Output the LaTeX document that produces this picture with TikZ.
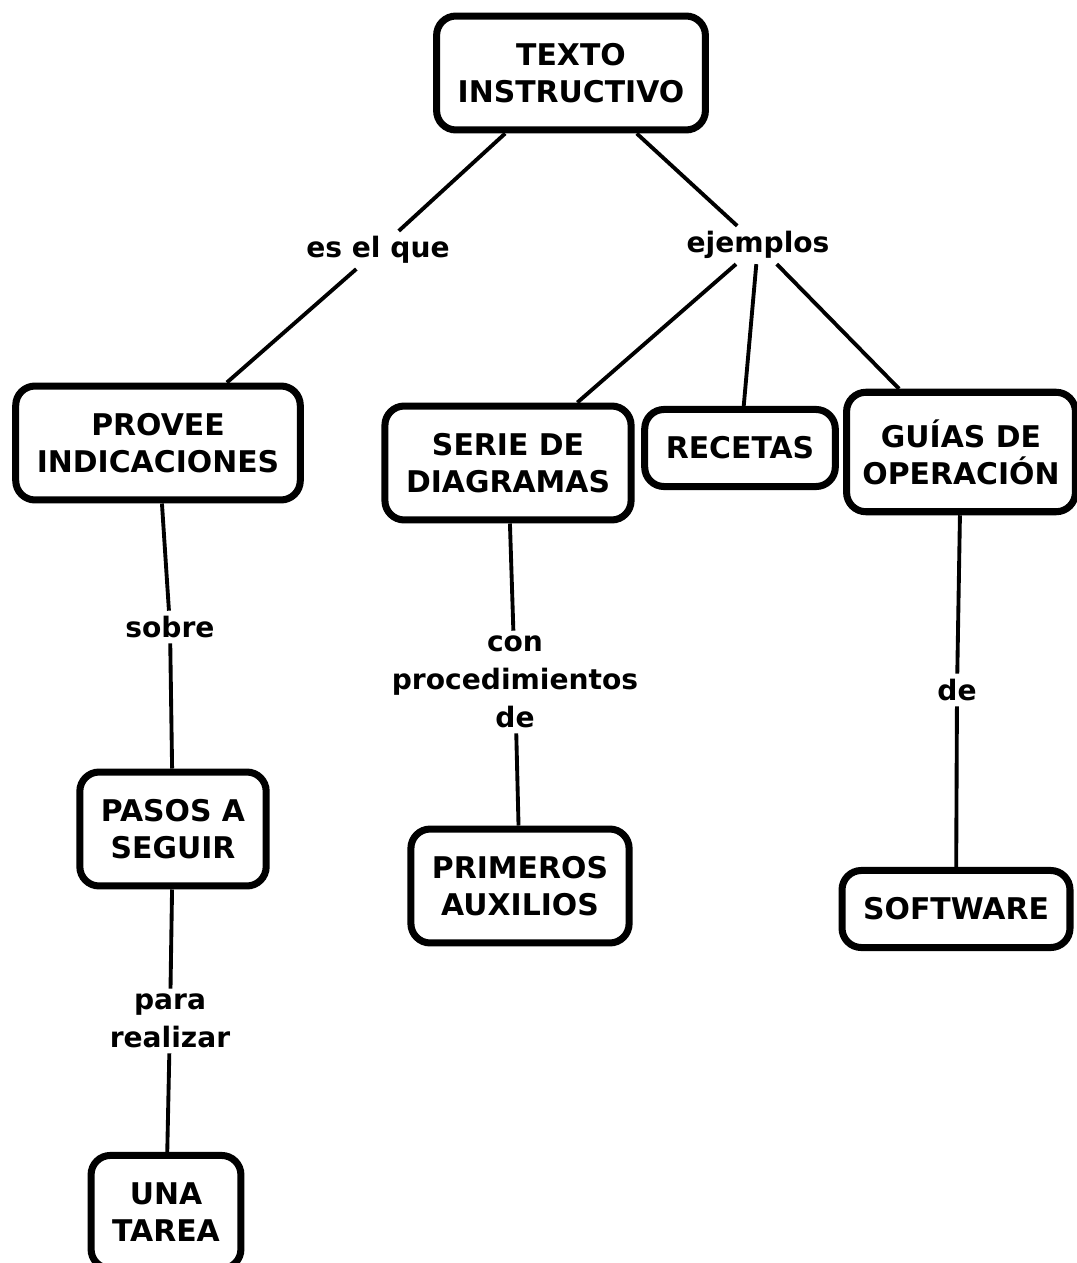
\documentclass[tikz,border=0pt]{standalone}
\usepackage{fontspec}
\setmainfont{DejaVu Sans}
\newcommand{\mapfont}{\bfseries\fontsize{17}{21}\selectfont}
\newcommand{\linkfont}{\bfseries\fontsize{16}{21.5}\selectfont}
\tikzset{
  concepto/.style={draw, line width=4pt, rounded corners=11pt, align=center,
    inner xsep=12pt, inner ysep=15.5pt, font=\mapfont},
  enlace/.style={align=center, inner sep=2pt, font=\linkfont},
}
\begin{document}
\begin{tikzpicture}[x=0.02cm, y=-0.02cm, line width=2.2pt]
\useasboundingbox (0,0) rectangle (1077,1263);
% conceptos
\node[concepto] (texto) at (571,73) {TEXTO\\INSTRUCTIVO};
\node[concepto] (provee) at (158,443) {PROVEE\\INDICACIONES};
\node[concepto] (serie) at (508,463) {SERIE DE\\DIAGRAMAS};
\node[concepto] (recetas) at (740,448) {RECETAS};
\node[concepto, inner xsep=9pt] (guias) at (961,452) {GUÍAS DE\\OPERACIÓN};
\node[concepto] (pasos) at (173,829) {PASOS A\\SEGUIR};
\node[concepto] (primeros) at (520,886) {PRIMEROS\\AUXILIOS};
\node[concepto] (software) at (956,909) {SOFTWARE};
\node[concepto] (tarea) at (166,1212) {UNA\\TAREA};
% enlaces
\node[enlace] (esque) at (378,250) {es el que};
\node[enlace] (ejemplos) at (758,245) {ejemplos};
\node[enlace] (sobre) at (170,627) {sobre};
\node[enlace] (con) at (515,682) {con\\procedimientos\\de};
\node[enlace] (de) at (957,690) {de};
\node[enlace] (para) at (170,1021) {para\\realizar};
% lineas
\draw (texto) -- (esque);
\draw (esque) -- (provee);
\draw (texto) -- (ejemplos);
\draw (ejemplos) -- (serie);
\draw (ejemplos) -- (recetas);
\draw (ejemplos) -- (guias);
\draw (provee) -- (sobre);
\draw (sobre) -- (pasos);
\draw (pasos) -- (para);
\draw (para) -- (tarea);
\draw (serie) -- (con);
\draw (con) -- (primeros);
\draw (guias) -- (de);
\draw (de) -- (software);
\end{tikzpicture}
\end{document}
